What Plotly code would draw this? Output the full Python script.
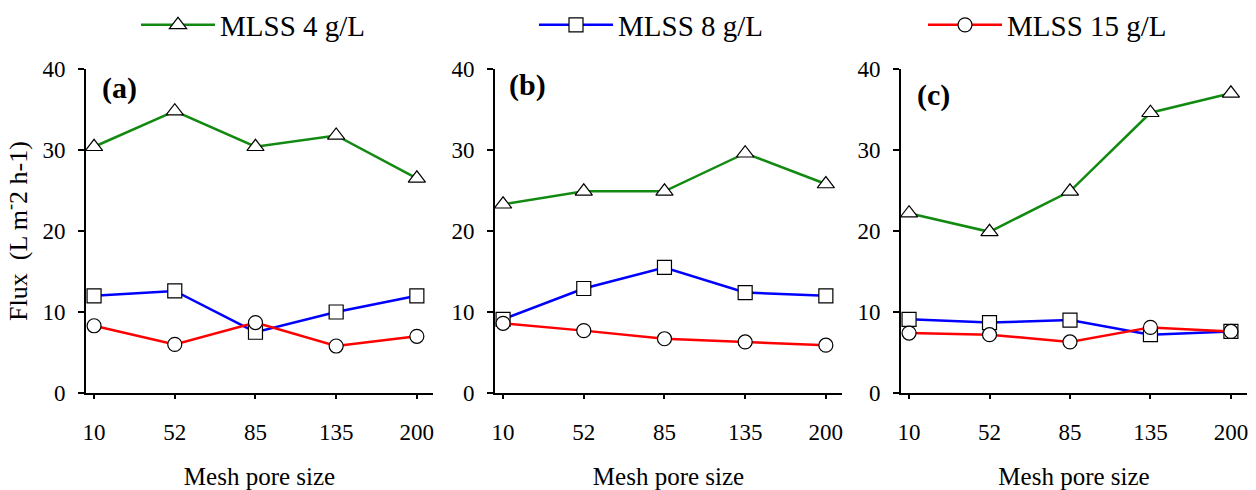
import plotly.graph_objects as go

categories = ["10", "52", "85", "135", "200"]
y_ticks = [0, 10, 20, 30, 40]

# Panel (a)
a_mlss4 = [30.4, 34.8, 30.4, 31.8, 26.5]
a_mlss8 = [12.0, 12.6, 7.5, 10.0, 12.0]
a_mlss15 = [8.3, 6.0, 8.7, 5.8, 7.0]
# Panel (b)
b_mlss4 = [23.3, 24.9, 24.9, 29.6, 25.8]
b_mlss8 = [9.1, 12.9, 15.5, 12.4, 12.0]
b_mlss15 = [8.6, 7.7, 6.7, 6.3, 5.9]
# Panel (c)
c_mlss4 = [22.2, 19.9, 24.9, 34.6, 37.0]
c_mlss8 = [9.1, 8.7, 9.0, 7.2, 7.6]
c_mlss15 = [7.4, 7.2, 6.3, 8.1, 7.6]

series_names = ["MLSS 4 g/L", "MLSS 8 g/L", "MLSS 15 g/L"]
panel_labels = ["(a)", "(b)", "(c)"]

colors = ["#128a12", "#0000ff", "#ff0000"]
symbols = ["triangle-up", "square", "circle"]
msizes = [15, 14, 14]

FONT = "Liberation Serif, Times New Roman, serif"
W, H = 1256, 490
ML, MR, MT, MB = 86, 9, 69, 97
PW = W - ML - MR
domains = [(0, 347 / PW), ((495 - ML) / PW, (842 - ML) / PW), ((901 - ML) / PW, 1.0)]
legend_left_px = [150, 548, 937]

panels = [
    [a_mlss4, a_mlss8, a_mlss15],
    [b_mlss4, b_mlss8, b_mlss15],
    [c_mlss4, c_mlss8, c_mlss15],
]
legend_ids = ["legend", "legend2", "legend3"]

fig = go.Figure()
for p, data in enumerate(panels):
    sfx = "" if p == 0 else str(p + 1)
    for s, vals in enumerate(data):
        fig.add_trace(go.Scatter(
            x=categories, y=vals, mode="lines+markers",
            name=series_names[s], showlegend=(p == 0),
            legend=legend_ids[s],
            line=dict(color=colors[s], width=2.5),
            marker=dict(symbol=symbols[s], size=msizes[s], color="white",
                        line=dict(color="black", width=1.2)),
            xaxis="x" + sfx, yaxis="y" + sfx,
        ))

layout = dict(
    width=W, height=H,
    margin=dict(l=ML, r=MR, t=MT, b=MB, autoexpand=False),
    plot_bgcolor="white", paper_bgcolor="white",
    font=dict(family=FONT, color="black", size=23),
    showlegend=True,
)
for i, lid in enumerate(legend_ids):
    layout[lid] = dict(
        xref="container", yref="container",
        x=(legend_left_px[i] - 14) / W, xanchor="left",
        y=1 - 25 / H, yanchor="middle",
        orientation="h",
        font=dict(family=FONT, size=29), itemwidth=74,
        bgcolor="rgba(0,0,0,0)",
    )

annotations = []
for p in range(3):
    sfx = "" if p == 0 else str(p + 1)
    xa = dict(
        domain=list(domains[p]), anchor="y" + sfx,
        type="category", categoryorder="array", categoryarray=categories,
        range=[-0.1, 4.2],
        showline=True, linecolor="black", linewidth=2,
        ticks="outside", ticklen=4, tickwidth=1.5, tickcolor="black",
        ticklabelstandoff=13,
        showgrid=False, zeroline=False,
        tickfont=dict(family=FONT, size=23),
        title=dict(text="Mesh pore size", font=dict(family=FONT, size=25), standoff=24),
    )
    ya = dict(
        domain=[0, 1], anchor="x" + sfx,
        range=[0, 40], tickvals=y_ticks, ticktext=[str(v) for v in y_ticks],
        showline=True, linecolor="black", linewidth=2,
        ticks="outside", ticklen=6, tickwidth=1.5, tickcolor="black",
        ticklabelstandoff=8,
        showgrid=False, zeroline=False,
        tickfont=dict(family=FONT, size=23),
    )
    if p == 0:
        ya["title"] = dict(text="Flux  (L m<sup>-</sup>2 h-1)", font=dict(family=FONT, size=26), standoff=12)
    layout["xaxis" + sfx] = xa
    layout["yaxis" + sfx] = ya
    annotations.append(dict(
        text="<b>" + panel_labels[p] + "</b>", xref="x" + sfx + " domain", yref="y" + sfx + " domain",
        x=[0.04, 0.035, 0.04][p], y=[0.94, 0.95, 0.92][p], xanchor="left", yanchor="middle",
        showarrow=False, font=dict(family=FONT, size=30, color="black"),
    ))
layout["annotations"] = annotations
fig.update_layout(**layout)
fig.write_html("out.html")
